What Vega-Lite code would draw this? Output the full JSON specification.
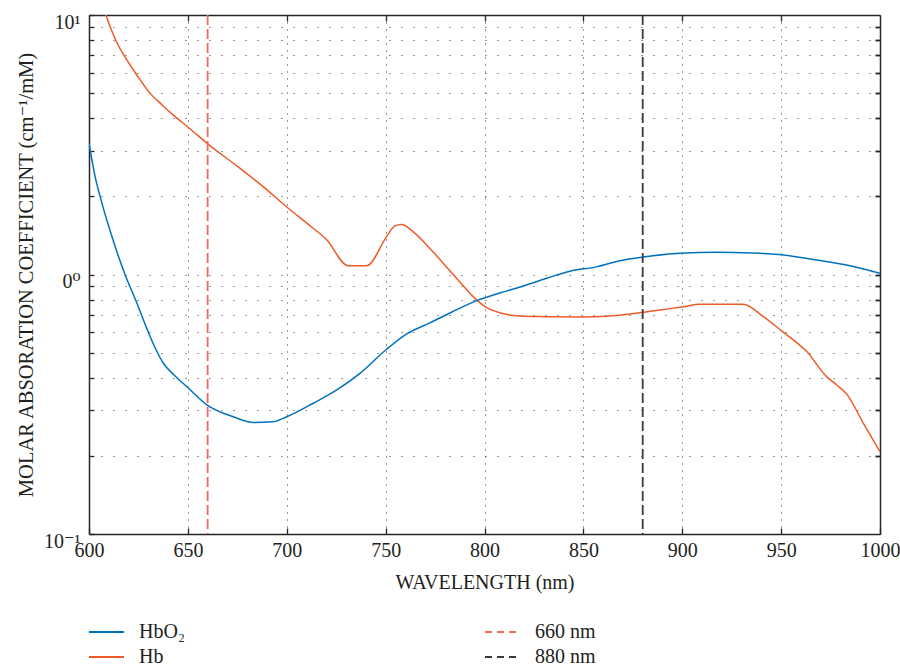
{
  "$schema": "https://vega.github.io/schema/vega-lite/v6.json",
  "width": 791,
  "height": 519,
  "autosize": {"type": "none"},
  "padding": {"left": 89, "top": 15, "right": 20, "bottom": 135},
  "config": {
    "font": "Liberation Serif, DejaVu Serif, serif",
    "view": {"stroke": null},
    "axis": {
      "labelFont": "Liberation Serif, DejaVu Serif, serif",
      "titleFont": "Liberation Serif, DejaVu Serif, serif",
      "labelColor": "#231f20",
      "titleColor": "#231f20",
      "titleFontWeight": "normal",
      "domainColor": "#262626",
      "domainWidth": 1.5,
      "tickColor": "#262626",
      "tickWidth": 1.3
    },
    "legend": {
      "labelFont": "Liberation Serif, DejaVu Serif, serif",
      "labelColor": "#231f20"
    }
  },
  "datasets": {
    "curves": [
      {"lambda": 600, "value": 17.5, "series": "Hb"},
      {"lambda": 605, "value": 12.5, "series": "Hb"},
      {"lambda": 608.6, "value": 10.0, "series": "Hb"},
      {"lambda": 612, "value": 8.5, "series": "Hb"},
      {"lambda": 614.2, "value": 7.8, "series": "Hb"},
      {"lambda": 618.2, "value": 6.89, "series": "Hb"},
      {"lambda": 624, "value": 5.9, "series": "Hb"},
      {"lambda": 630.8, "value": 5.0, "series": "Hb"},
      {"lambda": 637, "value": 4.5, "series": "Hb"},
      {"lambda": 642.5, "value": 4.12, "series": "Hb"},
      {"lambda": 650.6, "value": 3.67, "series": "Hb"},
      {"lambda": 660.2, "value": 3.18, "series": "Hb"},
      {"lambda": 672.8, "value": 2.69, "series": "Hb"},
      {"lambda": 690, "value": 2.12, "series": "Hb"},
      {"lambda": 700, "value": 1.82, "series": "Hb"},
      {"lambda": 710, "value": 1.58, "series": "Hb"},
      {"lambda": 720.2, "value": 1.36, "series": "Hb"},
      {"lambda": 731.1, "value": 1.08, "series": "Hb"},
      {"lambda": 740.4, "value": 1.08, "series": "Hb"},
      {"lambda": 750.5, "value": 1.40, "series": "Hb"},
      {"lambda": 754.7, "value": 1.54, "series": "Hb"},
      {"lambda": 758.1, "value": 1.56, "series": "Hb"},
      {"lambda": 764, "value": 1.46, "series": "Hb"},
      {"lambda": 772.4, "value": 1.26, "series": "Hb"},
      {"lambda": 784.2, "value": 1.0, "series": "Hb"},
      {"lambda": 796.1, "value": 0.797, "series": "Hb"},
      {"lambda": 801.1, "value": 0.745, "series": "Hb"},
      {"lambda": 807.8, "value": 0.712, "series": "Hb"},
      {"lambda": 817.9, "value": 0.692, "series": "Hb"},
      {"lambda": 830, "value": 0.688, "series": "Hb"},
      {"lambda": 850, "value": 0.686, "series": "Hb"},
      {"lambda": 861.8, "value": 0.69, "series": "Hb"},
      {"lambda": 880.3, "value": 0.715, "series": "Hb"},
      {"lambda": 890, "value": 0.732, "series": "Hb"},
      {"lambda": 900.5, "value": 0.751, "series": "Hb"},
      {"lambda": 909, "value": 0.768, "series": "Hb"},
      {"lambda": 930.9, "value": 0.768, "series": "Hb"},
      {"lambda": 941, "value": 0.688, "series": "Hb"},
      {"lambda": 950.8, "value": 0.602, "series": "Hb"},
      {"lambda": 958, "value": 0.545, "series": "Hb"},
      {"lambda": 964.6, "value": 0.489, "series": "Hb"},
      {"lambda": 968, "value": 0.45, "series": "Hb"},
      {"lambda": 973, "value": 0.404, "series": "Hb"},
      {"lambda": 978, "value": 0.376, "series": "Hb"},
      {"lambda": 983.2, "value": 0.346, "series": "Hb"},
      {"lambda": 991.6, "value": 0.267, "series": "Hb"},
      {"lambda": 1000, "value": 0.2075, "series": "Hb"},
      {"lambda": 600, "value": 3.2, "series": "HbO₂"},
      {"lambda": 603, "value": 2.4, "series": "HbO₂"},
      {"lambda": 605.6, "value": 2.0, "series": "HbO₂"},
      {"lambda": 610.6, "value": 1.48, "series": "HbO₂"},
      {"lambda": 618.2, "value": 1.0, "series": "HbO₂"},
      {"lambda": 624.1, "value": 0.78, "series": "HbO₂"},
      {"lambda": 629.2, "value": 0.62, "series": "HbO₂"},
      {"lambda": 633, "value": 0.53, "series": "HbO₂"},
      {"lambda": 637.6, "value": 0.455, "series": "HbO₂"},
      {"lambda": 643, "value": 0.41, "series": "HbO₂"},
      {"lambda": 649.4, "value": 0.370, "series": "HbO₂"},
      {"lambda": 659.8, "value": 0.314, "series": "HbO₂"},
      {"lambda": 673, "value": 0.283, "series": "HbO₂"},
      {"lambda": 683.1, "value": 0.269, "series": "HbO₂"},
      {"lambda": 693.2, "value": 0.271, "series": "HbO₂"},
      {"lambda": 700, "value": 0.283, "series": "HbO₂"},
      {"lambda": 713.4, "value": 0.319, "series": "HbO₂"},
      {"lambda": 725.3, "value": 0.359, "series": "HbO₂"},
      {"lambda": 737, "value": 0.416, "series": "HbO₂"},
      {"lambda": 750.5, "value": 0.515, "series": "HbO₂"},
      {"lambda": 760.7, "value": 0.590, "series": "HbO₂"},
      {"lambda": 772.4, "value": 0.651, "series": "HbO₂"},
      {"lambda": 784, "value": 0.72, "series": "HbO₂"},
      {"lambda": 796.1, "value": 0.793, "series": "HbO₂"},
      {"lambda": 808, "value": 0.85, "series": "HbO₂"},
      {"lambda": 818, "value": 0.895, "series": "HbO₂"},
      {"lambda": 831.5, "value": 0.967, "series": "HbO₂"},
      {"lambda": 843.2, "value": 1.03, "series": "HbO₂"},
      {"lambda": 856.7, "value": 1.07, "series": "HbO₂"},
      {"lambda": 868.5, "value": 1.13, "series": "HbO₂"},
      {"lambda": 880.3, "value": 1.168, "series": "HbO₂"},
      {"lambda": 898.9, "value": 1.207, "series": "HbO₂"},
      {"lambda": 917.4, "value": 1.218, "series": "HbO₂"},
      {"lambda": 935, "value": 1.21, "series": "HbO₂"},
      {"lambda": 951.1, "value": 1.189, "series": "HbO₂"},
      {"lambda": 968, "value": 1.137, "series": "HbO₂"},
      {"lambda": 984.8, "value": 1.081, "series": "HbO₂"},
      {"lambda": 1000, "value": 1.01, "series": "HbO₂"}
    ],
    "marks": [
      {"lambda": 660, "series": "660 nm"},
      {"lambda": 880, "series": "880 nm"}
    ]
  },
  "layer": [
    {
      "data": {"name": "curves"},
      "mark": {"type": "line", "clip": true, "strokeWidth": 1.5, "interpolate": "monotone"},
      "encoding": {
        "x": {
          "field": "lambda", "type": "quantitative",
          "scale": {"domain": [600, 1000], "nice": false, "zero": false},
          "axis": {
            "orient": "bottom",
            "values": [600, 650, 700, 750, 800, 850, 900, 950, 1000],
            "format": "d",
            "title": "WAVELENGTH (nm)",
            "titleFontSize": 20,
            "titleY": 48,
            "titleBaseline": "middle",
            "labelFontSize": 20,
            "labelFlush": false,
            "labelOverlap": false,
            "labelBaseline": "top",
            "labelPadding": 12,
            "tickSize": -6,
            "domain": true,
            "grid": true,
            "gridColor": "#333333",
            "gridDash": [1, 6],
            "gridWidth": 1
          }
        },
        "y": {
          "field": "value", "type": "quantitative",
          "scale": {"type": "log", "domain": [0.1, 10], "nice": false},
          "axis": {
            "orient": "left",
            "values": [0.1, 0.2, 0.3, 0.4, 0.5, 0.6, 0.7, 0.8, 0.9, 1, 2, 3, 4, 5, 6, 7, 8, 9, 10],
            "labelExpr": "datum.value == 10 ? '10¹' : datum.value == 1 ? '0⁰' : datum.value == 0.1 ? '10⁻¹' : ''",
            "labelFontSize": 20,
            "labelOverlap": false,
            "labelBaseline": "alphabetic",
            "labelOffset": 13,
            "labelPadding": 14,
            "title": "MOLAR ABSORATION COEFFICIENT (cm⁻¹/mM)",
            "titleFontSize": 20.5,
            "titleX": -57,
            "titleY": 259.5,
            "titleAlign": "center",
            "titleBaseline": "alphabetic",
            "tickSize": -5,
            "domain": true,
            "grid": true,
            "gridColor": "#333333",
            "gridDash": [1, 11],
            "gridWidth": 1
          }
        },
        "color": {
          "field": "series", "type": "nominal",
          "scale": {"domain": ["HbO₂", "Hb"], "range": ["#0072BD", "#F05A28"]},
          "legend": {
            "orient": "none",
            "legendX": -1,
            "legendY": 607,
            "title": null,
            "padding": 0,
            "symbolType": "stroke",
            "symbolSize": 1225,
            "symbolStrokeWidth": 2,
            "labelFontSize": 20,
            "labelOffset": 14,
            "rowPadding": 5,
            "clipHeight": 20
          }
        }
      }
    },
    {
      "data": {"name": "marks"},
      "mark": {"type": "rule", "strokeWidth": 1.8, "strokeDash": [10, 4]},
      "encoding": {
        "x": {"field": "lambda", "type": "quantitative", "axis": null},
        "stroke": {
          "field": "series", "type": "nominal",
          "scale": {"domain": ["660 nm", "880 nm"], "range": ["#F06A5A", "#3A3A3A"]},
          "legend": {
            "orient": "none",
            "legendX": 395,
            "legendY": 607,
            "title": null,
            "padding": 0,
            "symbolType": "stroke",
            "symbolSize": 1225,
            "symbolStrokeWidth": 2,
            "symbolDash": [7, 5],
            "labelFontSize": 20,
            "labelOffset": 14,
            "rowPadding": 5,
            "clipHeight": 20
          }
        }
      }
    },
    {
      "data": {"name": "curves"},
      "mark": {"type": "point", "opacity": 0},
      "encoding": {
        "x": {
          "field": "lambda", "type": "quantitative",
          "scale": {"domain": [600, 1000], "nice": false, "zero": false},
          "axis": {
            "orient": "top",
            "values": [650, 700, 750, 800, 850, 900, 950],
            "labels": false,
            "title": null,
            "tickSize": -6,
            "domain": true,
            "grid": false
          }
        },
        "y": {
          "field": "value", "type": "quantitative",
          "scale": {"type": "log", "domain": [0.1, 10], "nice": false},
          "axis": {
            "orient": "right",
            "values": [0.2, 0.3, 0.4, 0.5, 0.6, 0.7, 0.8, 0.9, 1, 2, 3, 4, 5, 6, 7, 8, 9],
            "labels": false,
            "title": null,
            "tickSize": -5,
            "tickWidth": 1.8,
            "domain": true,
            "grid": false
          }
        }
      }
    }
  ],
  "resolve": {"axis": {"x": "independent", "y": "independent"}}
}
